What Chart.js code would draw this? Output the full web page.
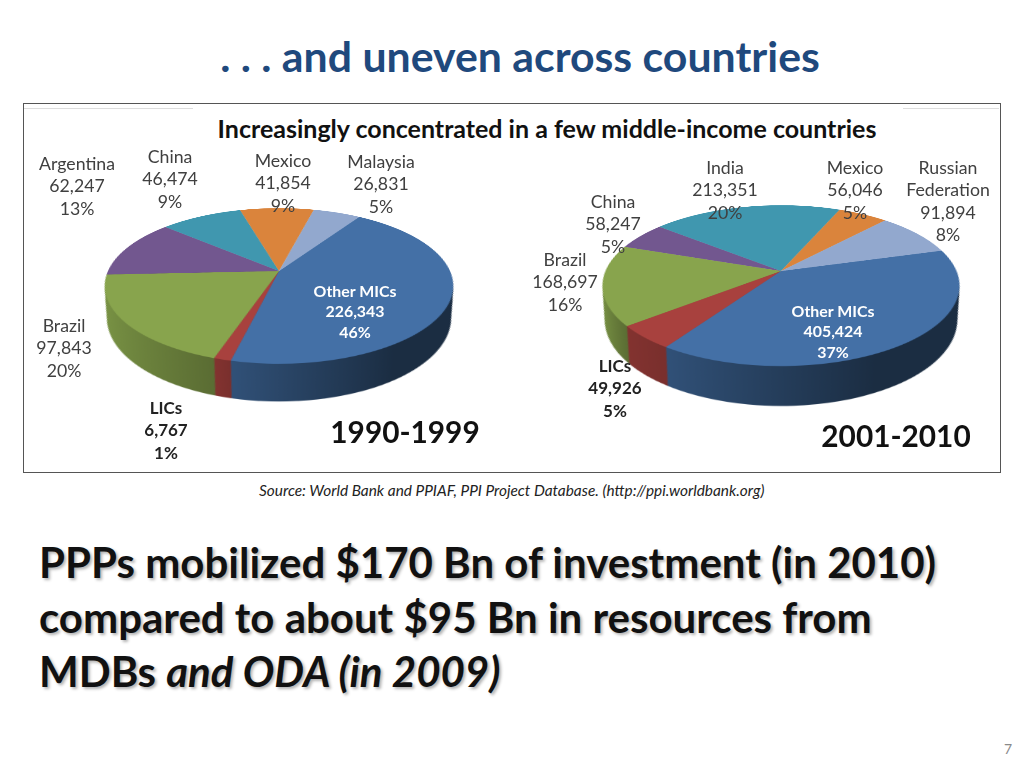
<!DOCTYPE html>
<html>
<head>
<meta charset="utf-8">
<script src="https://cdn.jsdelivr.net/npm/chart.js@4"></script>
<style>
  html, body { margin: 0; padding: 0; background: #fff; overflow: hidden; }
  body { width: 1024px; height: 768px; position: relative; font-family: Lato, sans-serif; }
  .abs { position: absolute; white-space: nowrap; }
  #title { left: 0; top: 30px; width: 1040px; text-align: center; font-size: 42.8px; font-weight: 700; color: #1f497d; line-height: 52px; }
  #frame { left: 23px; top: 103px; width: 976px; height: 368px; border: 1px solid #555; }
  .notch { background: #ddd; height: 1px; top: 108px; }
  #chartTitle { left: 547px; top: 128px; transform: translate(-50%, -50%); font-size: 25px; font-weight: 700; color: #111; }
  .pie { width: 500px; height: 500px; }
  .lab { transform: translate(-50%, -50%); text-align: center; font-size: 17.7px; line-height: 22.3px; color: #404040; }
  .lab.lics { font-weight: 700; color: #222; font-size: 17px; }
  .lab.other { font-weight: 700; color: #fff; font-size: 15.9px; line-height: 20.3px; }
  .period { transform: translate(-50%, -50%); font-size: 29.8px; font-weight: 700; color: #111; }
  #source { left: 259px; top: 481px; font-size: 15.4px; font-style: italic; color: #222; }
  #body { left: 39px; top: 535px; font-size: 42px; font-weight: 700; line-height: 54.5px; color: #111; text-shadow: 2px 2px 3px rgba(0,0,0,.3); }
  #page { left: 1004px; top: 740px; font-size: 14px; color: #8a8a8a; }
</style>
</head>
<body>
<div class="abs" id="title">. . . and uneven across countries</div>
<div class="abs" id="frame"></div>
<div class="abs notch" style="left:24px;width:169px"></div>
<div class="abs notch" style="left:903px;width:96px"></div>
<div class="abs" id="chartTitle">Increasingly concentrated in a few middle-income countries</div>
<div class="abs" id="source">Source: World Bank and PPIAF, PPI Project Database. (http://ppi.worldbank.org)</div>
<div class="abs" id="body">PPPs mobilized $170 Bn of investment (in 2010)<br>compared to about $95 Bn in resources from<br>MDBs <i>and ODA (in 2009)</i></div>
<div class="abs" id="page">7</div>

<script>
// data, clockwise from the start of Other MICs
const names90 = ['Other MICs', 'LICs', 'Brazil', 'Argentina', 'China', 'Mexico', 'Malaysia'];
const values90 = [226343, 6767, 97843, 62247, 46474, 41854, 26831];
const shares90 = ['46%', '1%', '20%', '13%', '9%', '9%', '5%'];

const names01 = ['Other MICs', 'LICs', 'Brazil', 'China', 'India', 'Mexico', 'Russian Federation'];
const values01 = [405424, 49926, 168697, 58247, 213351, 56046, 91894];
const shares01 = ['37%', '5%', '16%', '5%', '20%', '5%', '8%'];

const colors90 = ['#4470a6', '#a8413e', '#88a44d', '#72578f', '#4097af', '#da843c', '#92a8ce'];
const colors01 = ['#4470a6', '#a8413e', '#88a44d', '#72578f', '#4097af', '#da843c', '#92a8ce'];

// label centres, same order as the names above
const labelPos90 = [[355, 311], [166, 430], [64, 348], [77, 186], [170, 179], [283, 183], [381, 184]];
const labelPos01 = [[833, 331], [615, 388], [565, 282], [613, 224], [725, 190], [855, 190], [948, 202]];

// wall shading per slice: left edge, right edge
const wallLeft = [0.72, 0.78, 0.9, 0.9, 0.9, 0.9, 0.9];
const wallRight = [0.4, 0.72, 0.66, 0.66, 0.66, 0.66, 0.66];

function shade(hex, f) {
    const n = parseInt(hex.slice(1), 16);
    const c = [n >> 16, (n >> 8) & 255, n & 255].map(v => Math.round(v * f));
    return `rgb(${c[0]},${c[1]},${c[2]})`;
}

// side wall of the pie: stacked copies of each slice, drawn from the lowest up
const wallPlugin = {
    id: 'wall',
    beforeDatasetsDraw(chart, args, opts) {
        const ctx = chart.ctx;
        const arcs = chart.getDatasetMeta(0).data;
        const colors = chart.data.datasets[0].backgroundColor;
        const layers = 70;
        for (let k = layers; k >= 1; k--) {
            const t = k / layers;
            arcs.forEach((arc, i) => {
                const p = arc.getProps(['x', 'y', 'startAngle', 'endAngle', 'outerRadius'], true);
                // gradient over the front part of the slice
                let minX = Infinity, maxX = -Infinity;
                for (let j = 0; j <= 24; j++) {
                    const a = p.startAngle + (p.endAngle - p.startAngle) * j / 24;
                    if (Math.sin(a) < -0.05) continue;
                    const x = p.outerRadius * Math.cos(a);
                    minX = Math.min(minX, x);
                    maxX = Math.max(maxX, x);
                }
                if (minX === Infinity) return;
                const grad = ctx.createLinearGradient(minX, 0, maxX + 1, 0);
                grad.addColorStop(0, shade(colors[i], wallLeft[i]));
                grad.addColorStop(i === 0 ? 0.65 : 1, shade(colors[i], wallRight[i]));
                grad.addColorStop(1, shade(colors[i], wallRight[i]));
                ctx.save();
                ctx.translate(p.x, p.y + opts.shift * t);
                const s = 1 + (opts.scale - 1) * t;
                ctx.scale(s, s);
                ctx.beginPath();
                ctx.moveTo(0, 0);
                ctx.arc(0, 0, p.outerRadius, p.startAngle, p.endAngle);
                ctx.closePath();
                ctx.fillStyle = grad;
                ctx.fill();
                ctx.restore();
            });
        }
    }
};

function addPie(cx, cy, radius, rotation, tilt, persp, shift, scale, labels, values, colors) {
    const canvas = document.createElement('canvas');
    canvas.className = 'abs pie';
    canvas.style.left = (cx - 250) + 'px';
    canvas.style.top = (cy - 250) + 'px';
    canvas.width = 500;
    canvas.height = 500;
    canvas.style.transformOrigin = '50% 50%';
    canvas.style.transform = `perspective(${persp}px) rotateX(${tilt}deg)`;
    document.body.appendChild(canvas);
    new Chart(canvas.getContext('2d'), {
        type: 'pie',
        data: {
            labels: labels,
            datasets: [{ data: values, backgroundColor: colors, borderWidth: 0 }]
        },
        options: {
            responsive: false,
            animation: false,
            devicePixelRatio: 2,
            rotation: rotation,
            layout: { padding: 250 - radius },
            plugins: {
                legend: { display: false },
                tooltip: { enabled: false },
                wall: { shift: shift, scale: scale }
            }
        },
        plugins: [wallPlugin]
    });
}

function addLabels(names, values, shares, positions) {
    names.forEach((name, i) => {
        const el = document.createElement('div');
        el.className = 'abs lab' + (name === 'LICs' ? ' lics' : '') + (name === 'Other MICs' ? ' other' : '');
        el.style.left = positions[i][0] + 'px';
        el.style.top = positions[i][1] + 'px';
        const title = name === 'Russian Federation' ? 'Russian<br>Federation' : name;
        el.innerHTML = `${title}<br>${values[i].toLocaleString('en-US')}<br>${shares[i]}`;
        document.body.appendChild(el);
    });
}

function addPeriod(text, cx, cy) {
    const el = document.createElement('div');
    el.className = 'abs period';
    el.style.left = cx + 'px';
    el.style.top = cy + 'px';
    el.textContent = text;
    document.body.appendChild(el);
}

addPie(278.5, 271, 171, 33, 64, 801, 67, 0.913, names90, values90, colors90);
addPie(780.8, 270.7, 175.5, 74, 63.7, 864, 71, 0.9145, names01, values01, colors01);
addLabels(names90, values90, shares90, labelPos90);
addLabels(names01, values01, shares01, labelPos01);
addPeriod('1990-1999', 405, 431);
addPeriod('2001-2010', 896, 435);
</script>
</body>
</html>
